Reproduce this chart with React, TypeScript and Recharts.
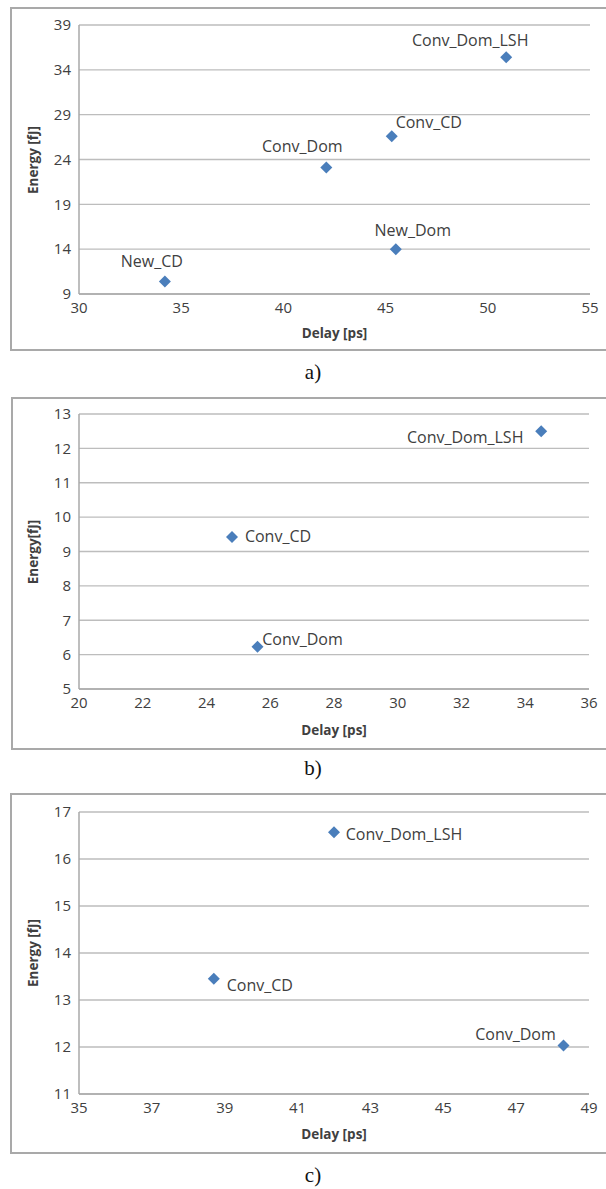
import React from 'react';
import { ScatterChart, Scatter, XAxis, YAxis, CartesianGrid } from 'recharts';

// ---------- Panel a ----------
const aNames = ['New_CD', 'Conv_Dom', 'Conv_CD', 'New_Dom', 'Conv_Dom_LSH'];
const aDelay = [34.2, 42.1, 45.3, 45.5, 50.9];
const aEnergy = [10.4, 23.1, 26.6, 14.0, 35.4];
const aXTicks = [30, 35, 40, 45, 50, 55];
const aYTicks = [9, 14, 19, 24, 29, 34, 39];

// ---------- Panel b ----------
const bNames = ['Conv_CD', 'Conv_Dom', 'Conv_Dom_LSH'];
const bDelay = [24.8, 25.6, 34.5];
const bEnergy = [9.42, 6.23, 12.5];
const bXTicks = [20, 22, 24, 26, 28, 30, 32, 34, 36];
const bYTicks = [5, 6, 7, 8, 9, 10, 11, 12, 13];

// ---------- Panel c ----------
const cNames = ['Conv_CD', 'Conv_Dom_LSH', 'Conv_Dom'];
const cDelay = [38.7, 42.0, 48.3];
const cEnergy = [13.45, 16.57, 12.03];
const cXTicks = [35, 37, 39, 41, 43, 45, 47, 49];
const cYTicks = [11, 12, 13, 14, 15, 16, 17];

const xTitle = 'Delay [ps]';
const aYTitle = 'Energy [fJ]';
const bYTitle = 'Energy[fJ]';
const cYTitle = 'Energy [fJ]';
const captions = ['a)', 'b)', 'c)'];

// label placement (offset of label centre from marker centre, px)
const aLabelPos: Record<string, [number, number]> = {
  New_CD: [-13, -20],
  Conv_Dom: [-24, -22],
  Conv_CD: [37, -14],
  New_Dom: [17, -19],
  Conv_Dom_LSH: [-36, -17],
};
const bLabelPos: Record<string, [number, number]> = {
  Conv_CD: [46, -1],
  Conv_Dom: [45, -8],
  Conv_Dom_LSH: [-76, 6],
};
const cLabelPos: Record<string, [number, number]> = {
  Conv_CD: [46, 6],
  Conv_Dom_LSH: [70, 2],
  Conv_Dom: [-48, -12],
};

const build = (names: string[], delay: number[], energy: number[]) =>
  names.map((name, i) => ({ name, delay: delay[i], energy: energy[i] }));

const MARKER = '#4a7ebb';
const GRID = '#bdbdbd';
const TEXT = '#404040';
const SANS = '"Open Sans", "Noto Sans", sans-serif';

type PanelProps = {
  data: { name: string; delay: number; energy: number }[];
  xTicks: number[];
  yTicks: number[];
  labelPos: Record<string, [number, number]>;
  top: number;
  bottom: number;
  plotTop: number;
  plotBottom: number;
  plotRight: number;
  borderLeft: number;
  yTitle: string;
  caption: string;
  captionY: number;
  xTitleY: number;
};

const Y_AXIS_W = 60;
const PLOT_LEFT = 79;
const X_AXIS_H = 30;

function Panel(p: PanelProps) {
  const h = p.bottom - p.top;
  const margin = {
    top: p.plotTop - p.top,
    left: PLOT_LEFT - Y_AXIS_W,
    right: 606 - p.plotRight,
    bottom: h - (p.plotBottom - p.top) - X_AXIS_H,
  };
  const shape = (props: any) => {
    const { cx, cy, payload } = props;
    const s = 6;
    const off = p.labelPos[payload.name] || [0, -18];
    return (
      <g>
        <polygon
          points={`${cx},${cy - s} ${cx + s},${cy} ${cx},${cy + s} ${cx - s},${cy}`}
          fill={MARKER}
        />
        <text
          x={cx + off[0]}
          y={cy + off[1]}
          textAnchor="middle"
          dominantBaseline="central"
          fontFamily={SANS}
          fontSize={16}
          fill={TEXT}
        >
          {payload.name}
        </text>
      </g>
    );
  };
  const midY = (p.plotTop + p.plotBottom) / 2;
  const midX = (PLOT_LEFT + p.plotRight) / 2;
  return (
    <>
      <div
        style={{
          position: 'absolute',
          left: p.borderLeft,
          top: p.top,
          width: 620 - p.borderLeft,
          height: h - 2,
          border: '2px solid #a9a9a9',
          boxSizing: 'border-box',
        }}
      />
      <div style={{ position: 'absolute', left: 0, top: p.top }}>
        <ScatterChart width={606} height={h} margin={margin}>
          <CartesianGrid vertical={false} stroke={GRID} strokeWidth={1.3} />
          <XAxis
            type="number"
            dataKey="delay"
            domain={[p.xTicks[0], p.xTicks[p.xTicks.length - 1]]}
            ticks={p.xTicks}
            allowDataOverflow
            height={X_AXIS_H}
            tickLine={false}
            axisLine={{ stroke: '#a8a8a8', strokeWidth: 1.5 }}
            tick={{ fill: TEXT, fontSize: 15, fontFamily: SANS }}
            interval={0}
          />
          <YAxis
            type="number"
            dataKey="energy"
            domain={[p.yTicks[0], p.yTicks[p.yTicks.length - 1]]}
            ticks={p.yTicks}
            allowDataOverflow
            width={Y_AXIS_W}
            tickLine={false}
            axisLine={{ stroke: '#a8a8a8', strokeWidth: 1.5 }}
            tick={{ fill: TEXT, fontSize: 15, fontFamily: SANS }}
            interval={0}
          />
          <Scatter data={p.data} shape={shape} isAnimationActive={false} />
        </ScatterChart>
      </div>
      <div
        style={{
          position: 'absolute',
          left: midX,
          top: p.xTitleY,
          transform: 'translate(-50%, -50%)',
          fontFamily: SANS,
          fontWeight: 700,
          fontSize: 13.5,
          color: TEXT,
          whiteSpace: 'nowrap',
        }}
      >
        {xTitle}
      </div>
      <div
        style={{
          position: 'absolute',
          left: 33,
          top: midY,
          transform: 'translate(-50%, -50%) rotate(-90deg)',
          fontFamily: SANS,
          fontWeight: 700,
          fontSize: 13.5,
          color: TEXT,
          whiteSpace: 'nowrap',
        }}
      >
        {p.yTitle}
      </div>
      <div
        style={{
          position: 'absolute',
          left: 313,
          top: p.captionY,
          transform: 'translate(-50%, -50%)',
          fontFamily: '"Liberation Serif", "DejaVu Serif", serif',
          fontSize: 21,
          color: '#111',
          whiteSpace: 'nowrap',
        }}
      >
        {p.caption}
      </div>
    </>
  );
}

export default function App() {
  return (
    <div style={{ position: 'relative', width: 606, height: 1189, background: '#fff', overflow: 'hidden' }}>
      <style>{`body{margin:0;background:#fff}`}</style>
      <Panel
        data={build(aNames, aDelay, aEnergy)}
        xTicks={aXTicks}
        yTicks={aYTicks}
        labelPos={aLabelPos}
        top={7}
        bottom={353}
        plotTop={25}
        plotBottom={294}
        plotRight={590}
        borderLeft={10}
        yTitle={aYTitle}
        caption={captions[0]}
        captionY={372}
        xTitleY={333}
      />
      <Panel
        data={build(bNames, bDelay, bEnergy)}
        xTicks={bXTicks}
        yTicks={bYTicks}
        labelPos={bLabelPos}
        top={397}
        bottom={752}
        plotTop={414}
        plotBottom={689}
        plotRight={589}
        borderLeft={11}
        yTitle={bYTitle}
        caption={captions[1]}
        captionY={768}
        xTitleY={730}
      />
      <Panel
        data={build(cNames, cDelay, cEnergy)}
        xTicks={cXTicks}
        yTicks={cYTicks}
        labelPos={cLabelPos}
        top={793}
        bottom={1156}
        plotTop={812}
        plotBottom={1094}
        plotRight={589}
        borderLeft={10}
        yTitle={cYTitle}
        caption={captions[2]}
        captionY={1175}
        xTitleY={1134}
      />
    </div>
  );
}
